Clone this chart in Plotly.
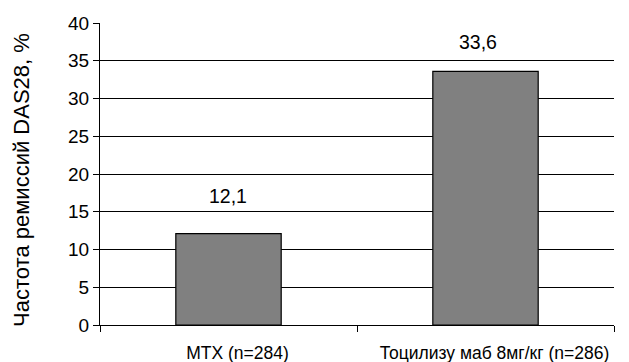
import plotly.graph_objects as go

# Remission rate by treatment group
categories = ["MTX (n=284)", "Тоцилизу маб 8мг/кг (n=286)"]
remission_pct = [12.1, 33.6]
value_labels = ["12,1", "33,6"]
y_ticks = [0, 5, 10, 15, 20, 25, 30, 35, 40]
y_title = "Частота ремиссий DAS28, %"

FONT = "Liberation Sans, Arial, sans-serif"

# pixel offsets for the value labels above each bar
label_dy = [38, 29]
label_dx = [-1, -8]

fig = go.Figure()
fig.add_trace(go.Bar(
    x=categories,
    y=remission_pct,
    width=0.41,
    marker=dict(color="#808080", line=dict(color="black", width=1.2)),
    hoverinfo="skip",
))

for cat, val, txt, dy, dx in zip(categories, remission_pct, value_labels, label_dy, label_dx):
    fig.add_annotation(
        x=cat, y=val, text=txt, showarrow=False,
        xanchor="center", yanchor="middle",
        yshift=dy, xshift=dx,
        font=dict(family=FONT, size=19.5, color="black"),
    )

# vertical axis title
fig.add_annotation(
    xref="paper", yref="paper", x=-0.154, y=0.48,
    text=y_title, textangle=-90, showarrow=False,
    xanchor="center", yanchor="middle",
    font=dict(family=FONT, size=22, color="black"),
)

fig.update_layout(
    width=629, height=362,
    margin=dict(l=100, r=15, t=23, b=37),
    paper_bgcolor="white", plot_bgcolor="white",
    showlegend=False,
)

fig.update_xaxes(
    type="category",
    automargin=False,
    showline=True, linecolor="black", linewidth=1.2,
    ticks="outside", ticklen=6, tickcolor="black", tickwidth=1.2,
    tickson="boundaries",
    tickfont=dict(family=FONT, size=17.5, color="black"),
    ticklabelshift=9, ticklabelstandoff=12,
    showgrid=False,
)

fig.update_yaxes(
    range=[0, 40],
    automargin=False,
    tickvals=y_ticks,
    showline=True, linecolor="black", linewidth=1.2,
    ticks="outside", ticklen=6, tickcolor="black", tickwidth=1.2,
    tickfont=dict(family=FONT, size=19, color="black"),
    showgrid=True, gridcolor="black", gridwidth=1.2,
    zeroline=False,
)

fig.write_html("out.html")
